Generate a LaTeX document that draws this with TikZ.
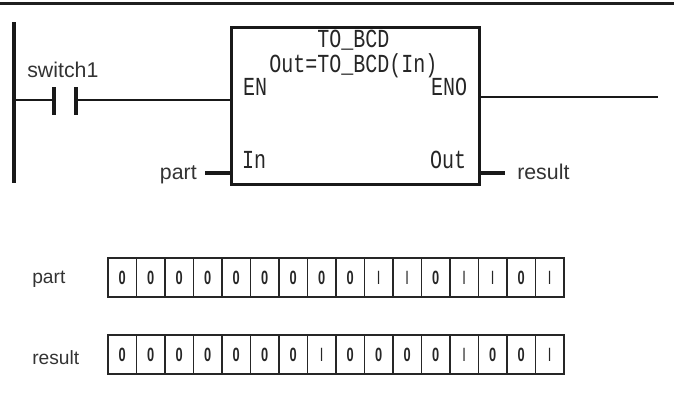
\documentclass[tikz,border=0pt]{standalone}
\usepackage{fontspec}
\setmainfont{Liberation Sans}
\newfontfamily\blockfont{Liberation Mono}
\begin{document}
\begin{tikzpicture}[x=0.75pt,y=-0.75pt,
  heavy/.style={line width=2.6pt,draw=black!90},
  wire/.style={line width=2.2pt,draw=black!90},
  fblock/.style={draw=black!90,line width=2.4pt,minimum width=185.5pt,minimum height=118pt,inner sep=0pt,outer sep=0pt,fill=white},
  pin/.style={font=\blockfont\fontsize{15}{15}\selectfont,yscale=1.3,inner sep=0pt,text=black!85},
  lab/.style={font=\fontsize{16}{16}\selectfont,inner sep=0pt,text=black!80},
  smalllab/.style={font=\fontsize{14.4}{14.4}\selectfont,inner sep=0pt,text=black!80},
  cell/.style={draw=black!85,line width=1.1pt,minimum width=21.4pt,minimum height=29pt,inner sep=0pt,outer sep=0pt},
  digit/.style={font=\bfseries\fontsize{12}{12}\selectfont,xscale=0.8,yscale=1.2,text=black!85},
  onebit/.style={font=\fontsize{12}{12}\selectfont,xscale=0.8,yscale=1.2,text=black!85}]
\useasboundingbox (0,0) rectangle (674,394);
\coordinate (barL) at (0,3.5);
\coordinate (barR) at (674,3.5);
\draw[line width=2.1pt,draw=black!88] (barL) -- (barR);
% rail and rung
\coordinate (railT) at (14,22);
\coordinate (railB) at (14,183);
\coordinate (railM) at (14,100);
\coordinate (c1T) at (54,87);
\coordinate (c1B) at (54,115);
\coordinate (c1M) at (54,100);
\coordinate (c2T) at (76,87);
\coordinate (c2B) at (76,115);
\coordinate (c2M) at (76,100);
\draw[heavy] (railT) -- (railB);
\draw[wire] (railM) -- (c1M);
\draw[heavy] (c1T) -- (c1B);
\draw[heavy] (c2T) -- (c2B);
\node[fblock] (fb) at (355.5,106) {};
\draw[wire] (c2M) -- (fb.west |- c2M);
\coordinate (enoEnd) at (658,97);
\draw[wire] (fb.east |- enoEnd) -- (enoEnd);
\node[lab,anchor=base west] (sw) at (27,77) {switch1};
\node[lab,anchor=base east] (pt) at (197,179) {part};
\node[lab,anchor=base west] (rs) at (517,179) {result};
\draw[heavy] (205,173) coordinate (ptS) -- (fb.west |- ptS);
\draw[heavy] (fb.east |- 505,173) -- (505,173) coordinate (rsS);
\node[pin] (t1) at (353.5,40) {TO\_BCD};
\node[pin] (t2) at (353.5,66) {Out=TO\_BCD(In)};
\node[pin] (en) at (255,87) {EN};
\node[pin] (eno) at (449,87) {ENO};
\node[pin] (in) at (254,160) {In};
\node[pin] (out) at (448,160) {Out};
% bit rows
\node[smalllab,anchor=base west] (p2) at (32,283) {part};
\node[smalllab,anchor=base west] (r2) at (32,364) {result};
\foreach \i/\v/\s in {0/0/digit,1/0/digit,2/0/digit,3/0/digit,4/0/digit,5/0/digit,6/0/digit,7/0/digit,8/0/digit,9/I/onebit,10/I/onebit,11/0/digit,12/I/onebit,13/I/onebit,14/0/digit,15/I/onebit}{
  \node[cell] (a\i) at ({122.2+28.5*\i},277.5) {};
  \node[\s] (da\i) at (a\i) {\v};
}
\foreach \i/\v/\s in {0/0/digit,1/0/digit,2/0/digit,3/0/digit,4/0/digit,5/0/digit,6/0/digit,7/I/onebit,8/0/digit,9/0/digit,10/0/digit,11/0/digit,12/I/onebit,13/0/digit,14/0/digit,15/I/onebit}{
  \node[cell] (b\i) at ({122.2+28.5*\i},354.5) {};
  \node[\s] (db\i) at (b\i) {\v};
}
\end{tikzpicture}
\end{document}
